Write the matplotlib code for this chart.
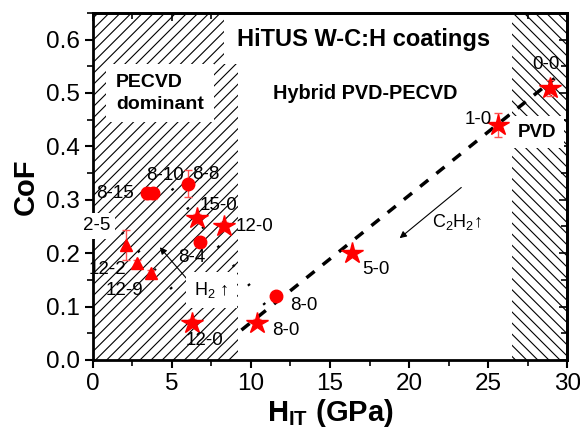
import numpy as np
import matplotlib
matplotlib.use('Agg')
import matplotlib.pyplot as plt

plt.rcParams['font.family'] = ['Liberation Sans', 'DejaVu Sans']
plt.rcParams['mathtext.fontset'] = 'custom'
plt.rcParams['mathtext.rm'] = 'Liberation Sans'
plt.rcParams['mathtext.bf'] = 'Liberation Sans:bold'
plt.rcParams['hatch.linewidth'] = 0.8

# stars: pure H2 runs / hybrid series
star_x = [28.9, 25.6, 16.4, 10.4, 6.3, 8.3, 6.6]
star_y = [0.51, 0.44, 0.20, 0.07, 0.07, 0.25, 0.265]
star_err = [0.015, 0.022, 0.006, 0.006, 0.006, 0.008, 0.008]
star_lbl = ['0-0', '1-0', '5-0', '8-0', '12-0', '12-0', '15-0']

circ_x = [11.6, 6.8, 6.0, 3.8, 3.4]
circ_y = [0.12, 0.22, 0.33, 0.312, 0.312]
circ_err = [0.005, 0.008, 0.025, 0.01, 0.01]
circ_lbl = ['8-0', '8-4', '8-8', '8-10', '8-15']

tri_x = [2.1, 2.8, 3.7]
tri_y = [0.215, 0.182, 0.162]
tri_err = [0.028, 0.006, 0.006]
tri_lbl = ['2-5', '12-2', '12-9']

# label offsets (points)
star_off = [(-3, 17), (-4, 4), (7, -12), (11, -6), (9, -13), (8, 0), (2, 9)]
star_ha = ['center', 'right', 'left', 'left', 'center', 'left', 'left']
circ_off = [(10, -7), (-6, -11), (3, 7), (9, 13), (-9, 0)]
circ_ha = ['left', 'center', 'left', 'center', 'right']
tri_off = [(-21, 14), (-21, -5), (-19, -12)]

fig = plt.figure(figsize=(5.8, 4.29), dpi=100)
ax = fig.add_axes([0.160, 0.161, 0.818, 0.809])

ax.axvspan(0, 9.2, facecolor='none', edgecolor='black', hatch='///', linewidth=0, zorder=0)
ax.axvspan(26.5, 30, facecolor='none', edgecolor='black', hatch='\\\\\\', linewidth=0, zorder=0)

# trend lines
ax.plot([9.4, 29.2], [0.056, 0.527], color='black', lw=2.5, ls=(0, (3, 3)), zorder=2)
ax.plot([5.0, 11.0], [0.321, 0.099], color='black', lw=2, ls=(0, (0.8, 8)), zorder=2)
ax.plot([1.84, 5.5], [0.239, 0.116], color='black', lw=2, ls=(0, (0.8, 8)), zorder=2)

red = '#ff0000'
eb = dict(ecolor='#ff5050', elinewidth=1.0, capsize=3, capthick=1.0, ls='none', zorder=3)
ax.errorbar(star_x, star_y, yerr=star_err, marker='*', ms=16, mfc=red, mec=red, **eb)
ax.errorbar(circ_x, circ_y, yerr=circ_err, marker='o', ms=9, mfc=red, mec=red, **eb)
ax.errorbar(tri_x, tri_y, yerr=tri_err, marker='^', ms=9, mfc=red, mec=red, **eb)

lfs = 13.5
for x, y, s, o, ha in zip(star_x, star_y, star_lbl, star_off, star_ha):
    ax.annotate(s, (x, y), xytext=o, textcoords='offset points', ha=ha, va='center',
                fontsize=lfs, zorder=4)
for x, y, s, o, ha in zip(circ_x, circ_y, circ_lbl, circ_off, circ_ha):
    ax.annotate(s, (x, y), xytext=o, textcoords='offset points', ha=ha, va='center',
                fontsize=lfs, zorder=4)
for i, (x, y, s, o) in enumerate(zip(tri_x, tri_y, tri_lbl, tri_off)):
    box = dict(boxstyle='square,pad=0.25', fc='white', ec='none') if i == 0 else None
    ax.annotate(s, (x, y), xytext=o, textcoords='offset points', ha='center', va='center',
                fontsize=lfs, bbox=box, zorder=6, annotation_clip=False)

# region titles
ax.text(17.1, 0.60, 'HiTUS W-C:H coatings', fontsize=17, fontweight='bold', ha='center',
        va='center', bbox=dict(boxstyle='square,pad=0.55', fc='white', ec='none'), zorder=5)
ax.text(4.25, 0.499, 'PECVD\ndominant', fontsize=14, fontweight='bold', ha='center',
        va='center', multialignment='left', linespacing=1.35,
        bbox=dict(boxstyle='square,pad=0.5', fc='white', ec='none'), zorder=5)
ax.text(17.2, 0.499, 'Hybrid PVD-PECVD', fontsize=14.3, fontweight='bold', ha='center',
        va='center', zorder=5)
ax.text(28.1, 0.426, 'PVD', fontsize=13.5, fontweight='bold', ha='center', va='center',
        bbox=dict(boxstyle='square,pad=0.4', fc='white', ec='none'), zorder=5)

# gas flow arrows
ap = dict(arrowstyle='-|>', color='black', lw=0.8, mutation_scale=10, shrinkA=0, shrinkB=0)
ax.annotate('', xy=(4.24, 0.211), xytext=(6.0, 0.15), arrowprops=ap, zorder=4)
ax.annotate('', xy=(19.4, 0.228), xytext=(23.3, 0.323), arrowprops=ap, zorder=4)
ax.text(7.5, 0.131, 'H$_2$ ↑', fontsize=13, ha='center', va='center',
        bbox=dict(boxstyle='square,pad=0.45', fc='white', ec='none'), zorder=5)
ax.text(23.0, 0.258, 'C$_2$H$_2$↑', fontsize=13, ha='center', va='center', zorder=5)

ax.set_xlim(0, 30)
ax.set_ylim(0, 0.65)
ax.set_xticks(np.arange(0, 31, 5))
ax.set_xticks(np.arange(0, 30.1, 2.5), minor=True)
ax.set_yticks(np.arange(0, 0.61, 0.1))
ax.set_yticks(np.arange(0, 0.651, 0.05), minor=True)
ax.set_yticklabels(['0.0', '0.1', '0.2', '0.3', '0.4', '0.5', '0.6'])
ax.tick_params(which='major', direction='out', length=6, width=1.5, labelsize=17.5)
ax.tick_params(which='minor', direction='out', length=4, width=1.2)
for sp in ax.spines.values():
    sp.set_linewidth(2)

top = ax.secondary_xaxis('top')
top.set_xticks(np.arange(0, 31, 5))
top.set_xticks(np.arange(0, 30.1, 2.5), minor=True)
top.tick_params(which='both', direction='in', labeltop=False, width=1.2)
top.tick_params(which='major', length=6)
top.tick_params(which='minor', length=4)
right = ax.secondary_yaxis('right')
right.set_yticks(np.arange(0, 0.61, 0.1))
right.set_yticks(np.arange(0, 0.651, 0.05), minor=True)
right.tick_params(which='both', direction='in', labelright=False, width=1.2)
right.tick_params(which='major', length=6)
right.tick_params(which='minor', length=4)
top.spines['top'].set_linewidth(2)
right.spines['right'].set_linewidth(2)

ax.set_xlabel('H$_{\\mathbf{IT}}$ (GPa)', fontsize=21, fontweight='bold', labelpad=1)
ax.set_ylabel('CoF', fontsize=21, fontweight='bold', labelpad=4)

fig.savefig('out.png', dpi=100)
